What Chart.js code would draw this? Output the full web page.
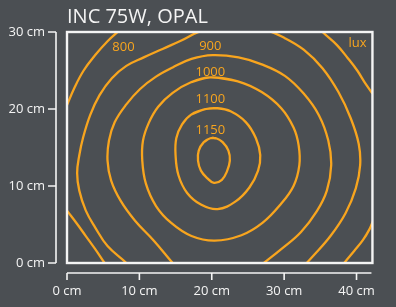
<!DOCTYPE html>
<html>
<head>
<meta charset="utf-8">
<script src="https://cdn.jsdelivr.net/npm/chart.js@4/dist/chart.umd.min.js"></script>
<style>
  html, body { margin: 0; padding: 0; background: #4b4f53; }
  #wrap { width: 396px; height: 307px; }
</style>
</head>
<body>
<div id="wrap"><canvas id="isolux"></canvas></div>
<script>
// Titles and axes
const chartTitle = 'INC 75W, OPAL';
const unitLabel = 'lux';
const xTicks = [0, 10, 20, 30, 40];
const xTickLabels = ['0 cm', '10 cm', '20 cm', '30 cm', '40 cm'];
const yTicks = [0, 10, 20, 30];
const yTickLabels = ['0 cm', '10 cm', '20 cm', '30 cm'];
const xMax = 42.2;
const yMax = 30;

// Isolux lines, [x cm, y cm]
const lux700TopLeft = [[-0.4, 19.6], [0, 20.5], [1.0, 22.7], [2.3, 25.0], [3.9, 27.0], [5.6, 28.8], [7.1, 30.1], [8.2, 30.9]];
const lux700TopRight = [[34.0, 31.3], [35.3, 30.0], [37.3, 28.3], [38.8, 26.6], [40.1, 25.0], [41.1, 23.5], [42.2, 22.0], [42.8, 21.1]];
const lux700BottomLeft = [[-0.7, 7.7], [0, 6.8], [1.3, 5.2], [2.6, 3.5], [3.9, 1.8], [5.2, 0], [5.8, -0.8]];
const lux700BottomRight = [[37.7, -0.8], [38.3, 0], [39.7, 1.6], [40.9, 3.0], [41.8, 4.4], [42.3, 5.5], [42.8, 6.4]];
const lux800 = [[8.6, -0.6], [8.2, 0], [5.6, 2.2], [3.9, 4.6], [2.6, 6.8], [1.7, 9.4], [1.4, 11.7], [1.7, 14.0], [2.2, 16.2],
  [3.2, 19.2], [4.5, 21.8], [6.2, 24.0], [8.2, 25.6], [10.6, 26.7], [13.2, 27.8], [15.8, 28.9], [18.2, 30.0],
  [22.4, 31.0], [27.3, 30.3], [30.1, 29.2], [32.7, 27.7], [35.3, 25.3], [37.5, 22.2], [39.2, 18.8], [40.3, 15.5],
  [40.5, 12.7], [39.9, 9.7], [38.5, 6.5], [36.4, 3.5], [34.0, 0.9], [33.1, 0], [32.5, -0.6]];
const lux900 = [[15.2, -0.6], [14.6, 0], [12.0, 2.9], [9.4, 5.5], [7.4, 8.1], [6.1, 10.7], [5.6, 13.3], [5.8, 15.9], [6.6, 18.3],
  [8.2, 20.6], [10.1, 22.6], [12.3, 24.2], [14.6, 25.4], [17.2, 26.5], [20.1, 27.0], [23.7, 26.7], [26.9, 25.8],
  [30.1, 24.3], [32.7, 22.0], [34.8, 19.2], [36.1, 15.9], [36.5, 12.7], [35.9, 9.4], [34.5, 6.7], [32.3, 4.0],
  [29.6, 1.8], [27.2, 0], [26.4, -0.6]];
const lux1000 = [[19.8, 24.1], [17.2, 23.5], [14.6, 22.1], [12.6, 20.3], [11.3, 18.2], [10.5, 15.9], [10.4, 13.3],
  [10.9, 10.3], [12.3, 7.4], [14.4, 5.2], [17.2, 3.5], [20.4, 2.9], [24.1, 3.6], [27.0, 5.2], [29.5, 7.6],
  [31.3, 10.0], [32.1, 12.7], [32.0, 15.3], [31.3, 17.6], [29.6, 20.1], [26.9, 22.2], [23.6, 23.6], [19.8, 24.1]];
const lux1100 = [[19.2, 20.0], [17.2, 19.3], [15.9, 18.0], [15.1, 16.2], [15.0, 14.0], [15.4, 11.4], [16.6, 9.1],
  [18.5, 7.6], [20.8, 7.0], [23.3, 8.0], [25.2, 9.8], [26.4, 12.0], [26.7, 14.0], [26.1, 16.2], [24.7, 18.3],
  [22.6, 19.7], [20.8, 20.1], [19.2, 20.0]];
const lux1150 = [[19.8, 16.2], [18.9, 15.7], [18.2, 14.6], [18.1, 13.3], [18.5, 12.0], [19.4, 11.0], [20.3, 10.4],
  [21.4, 10.8], [22.1, 11.9], [22.5, 13.3], [22.3, 14.6], [21.5, 15.7], [20.6, 16.2], [19.8, 16.2]];

const contourLines = [lux700TopLeft, lux700TopRight, lux700BottomLeft, lux700BottomRight,
  lux800, lux900, lux1000, lux1100, lux1150];
const contourLevels = ['700', '700', '700', '700', '800', '900', '1000', '1100', '1150'];

// where the level numbers sit (cm)
const levelLabels = ['800', '900', '1000', '1100', '1150'];
const levelLabelPos = [[7.8, 28.0], [19.8, 28.2], [19.8, 24.8], [19.8, 21.2], [19.8, 17.2]];

const orange = '#f8a51e';
const white = '#f4f4f4';
const font = '"Open Sans", "Noto Sans", sans-serif';

// closed loops: wrap one point on each side so the bezier join is smooth
function toPoints(pts) {
  const first = pts[0], last = pts[pts.length - 1];
  let list = pts;
  if (first[0] === last[0] && first[1] === last[1]) {
    list = [pts[pts.length - 2]].concat(pts, [pts[1]]);
  }
  return list.map(p => ({ x: p[0], y: p[1] }));
}

// Frame, offset axes, level labels
const isoluxDecor = {
  id: 'isoluxDecor',
  afterDatasetsDraw(chart) {
    const ctx = chart.ctx;
    const area = chart.chartArea;
    const xs = chart.scales.x;
    const ys = chart.scales.y;
    ctx.save();

    // level labels
    ctx.fillStyle = orange;
    ctx.font = '13px ' + font;
    ctx.textAlign = 'center';
    ctx.textBaseline = 'middle';
    levelLabels.forEach((txt, i) => {
      ctx.fillText(txt, xs.getPixelForValue(levelLabelPos[i][0]), ys.getPixelForValue(levelLabelPos[i][1]));
    });
    ctx.textAlign = 'right';
    ctx.fillText(unitLabel, area.right - 6, area.top + 11);

    // frame
    ctx.strokeStyle = white;
    ctx.lineWidth = 2.4;
    ctx.strokeRect(area.left, area.top, area.right - area.left, area.bottom - area.top);

    // y axis line, shifted left of the frame
    ctx.lineWidth = 1.6;
    const yx = area.left - 11;
    ctx.beginPath();
    ctx.moveTo(yx, ys.getPixelForValue(yTicks[yTicks.length - 1]));
    ctx.lineTo(yx, ys.getPixelForValue(yTicks[0]));
    yTicks.forEach(v => {
      const py = ys.getPixelForValue(v);
      ctx.moveTo(yx, py);
      ctx.lineTo(yx - 8, py);
    });
    ctx.stroke();

    // x axis line, below the frame
    const xy = area.bottom + 10;
    ctx.beginPath();
    ctx.moveTo(xs.getPixelForValue(xTicks[0]), xy);
    ctx.lineTo(area.right - 1, xy);
    xTicks.forEach(v => {
      const px = xs.getPixelForValue(v);
      ctx.moveTo(px, xy);
      ctx.lineTo(px, xy + 7);
    });
    ctx.stroke();
    ctx.restore();
  }
};

document.addEventListener('DOMContentLoaded', function () {
  const datasets = contourLines.map((pts, i) => ({
    label: contourLevels[i] + ' lux',
    data: toPoints(pts),
    showLine: true,
    borderColor: orange,
    borderWidth: 2.3,
    pointRadius: 0,
    tension: 0.4,
    fill: false
  }));

  new Chart(document.getElementById('isolux'), {
    type: 'scatter',
    data: { datasets: datasets },
    options: {
      responsive: true,
      maintainAspectRatio: false,
      animation: false,
      layout: { padding: { left: 0, right: 3, top: 0, bottom: 0 } },
      plugins: {
        legend: { display: false },
        tooltip: { enabled: false },
        title: {
          display: true,
          text: chartTitle,
          align: 'start',
          fullSize: false,
          color: white,
          font: { family: font, size: 20, weight: 'normal', lineHeight: 1.2 },
          padding: { top: 5, bottom: 3 }
        }
      },
      scales: {
        x: {
          type: 'linear',
          min: 0,
          max: xMax,
          afterFit: s => { s.height = 44; },
          afterBuildTicks: s => { s.ticks = xTicks.map(v => ({ value: v })); },
          grid: { display: false, drawTicks: false },
          border: { display: false },
          ticks: {
            color: white,
            padding: 20,
            maxRotation: 0,
            font: { family: font, size: 13 },
            callback: (v, i) => xTickLabels[i]
          }
        },
        y: {
          type: 'linear',
          min: 0,
          max: yMax,
          afterFit: s => { s.width = 67; },
          afterBuildTicks: s => { s.ticks = yTicks.map(v => ({ value: v })); },
          grid: { display: false, drawTicks: false },
          border: { display: false },
          ticks: {
            color: white,
            padding: 22,
            font: { family: font, size: 13 },
            callback: (v, i) => yTickLabels[i]
          }
        }
      }
    },
    plugins: [isoluxDecor]
  });
});
</script>
</body>
</html>
